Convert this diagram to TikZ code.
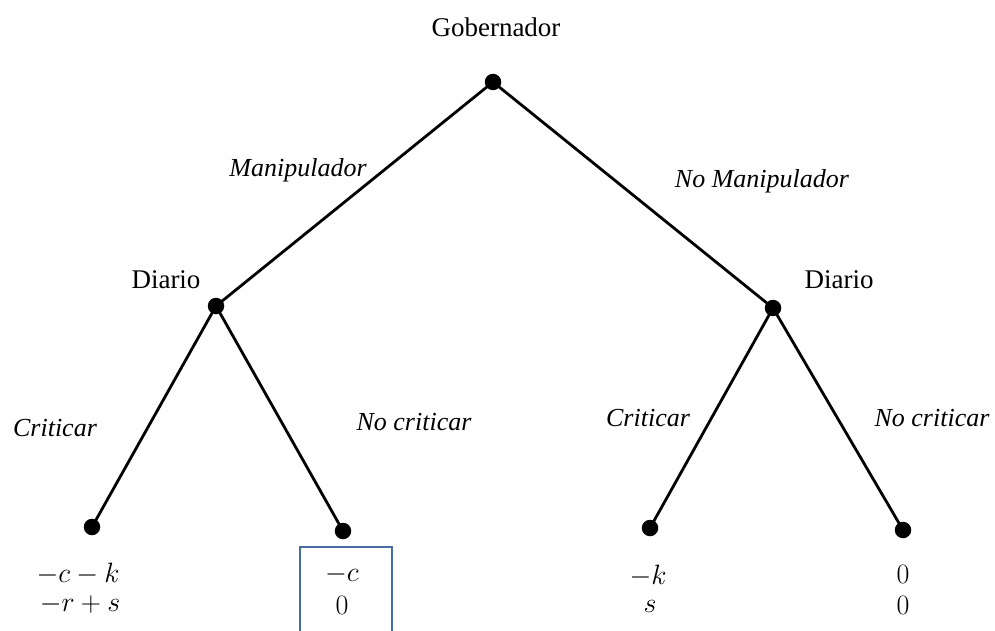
\RequirePackage{fix-cm}
\documentclass[tikz,border=0pt]{standalone}
\usepackage{fontspec}
\setmainfont{Liberation Serif}
\begin{document}
\begin{tikzpicture}[x=1pt,y=-1pt,
  dot/.style={circle,fill=black,inner sep=0pt,minimum size=16.5pt},
  edge/.style={line width=2.8pt},
  player/.style={font=\fontsize{27}{32}\selectfont},
  act/.style={font=\fontsize{26}{30}\selectfont\itshape},
  pay/.style={font=\fontsize{28}{32}\selectfont}]
\useasboundingbox (0,0) rectangle (995,631);
\node[dot] (R) at (493,82) {};
\node[dot] (DL) at (216,306) {};
\node[dot] (DR) at (773,308) {};
\node[dot] (L1) at (92,527) {};
\node[dot] (L2) at (343,531) {};
\node[dot] (L3) at (650,528) {};
\node[dot] (L4) at (903,530) {};
\draw[edge] (R.center) -- (DL.center);
\draw[edge] (R.center) -- (DR.center);
\draw[edge] (DL.center) -- (L1.center);
\draw[edge] (DL.center) -- (L2.center);
\draw[edge] (DR.center) -- (L3.center);
\draw[edge] (DR.center) -- (L4.center);
\node[player] (g) at (496,27) {Gobernador};
\node[player] (d1) at (166,280) {Diario};
\node[player] (d2) at (839,280) {Diario};
\node[act] (a1) at (298,170) {Manipulador};
\node[act] (a2) at (762,181) {No Manipulador};
\node[act] (a3) at (55,428) {Criticar};
\node[act] (a4) at (414,422) {No criticar};
\node[act] (a5) at (648,418) {Criticar};
\node[act] (a6) at (932,418) {No criticar};
\node[pay] (p1a) at (78,574) {$-c-k$};
\node[pay] (p1b) at (80,604) {$-r+s$};
\node[pay] (p2a) at (342,574) {$-c$};
\node[pay] (p2b) at (342,605) {$0$};
\node[pay] (p3a) at (648,576) {$-k$};
\node[pay] (p3b) at (650,606) {$s$};
\node[pay] (p4a) at (903,574) {$0$};
\node[pay] (p4b) at (903,605) {$0$};
\draw[color={rgb,255:red,70;green,110;blue,160},line width=1.3pt] (300,633) -- (300,547) -- (392,547) -- (392,633);
\end{tikzpicture}
\end{document}
